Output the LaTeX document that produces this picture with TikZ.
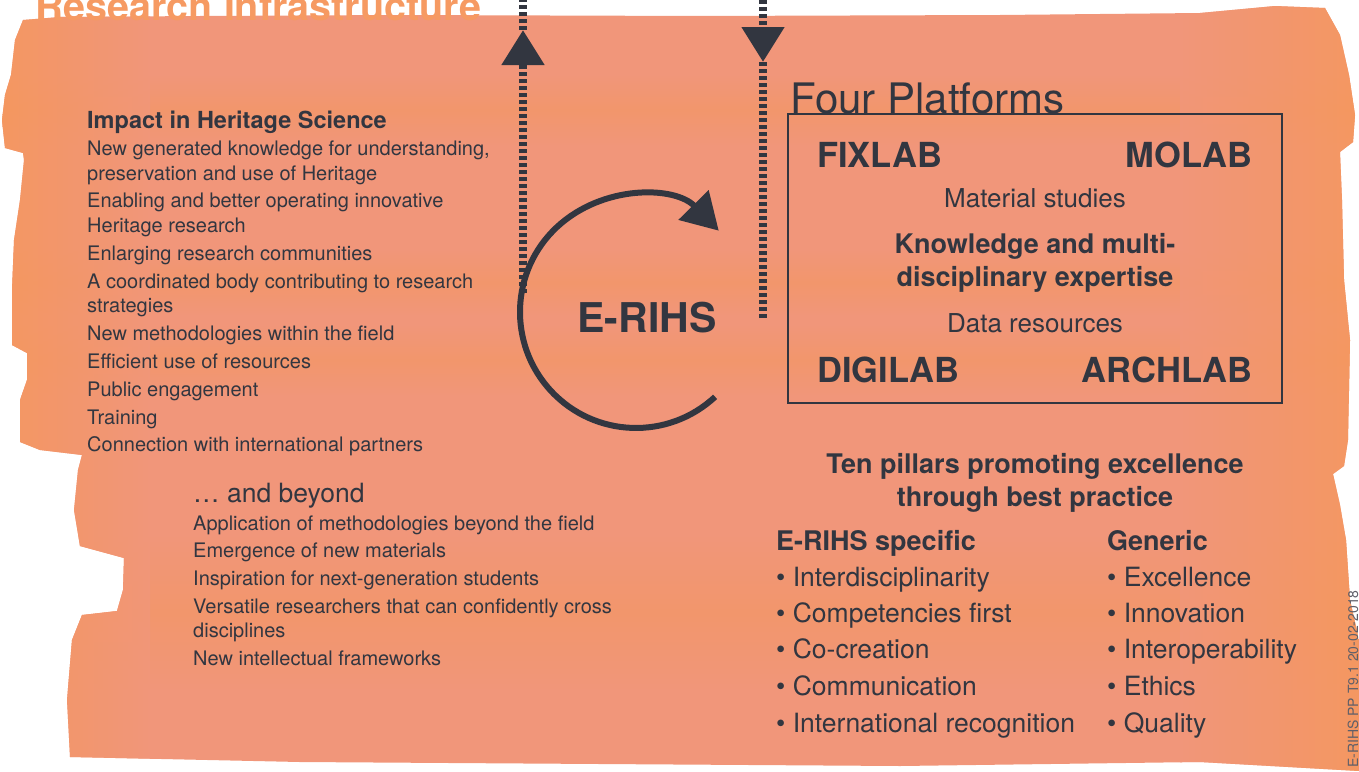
\documentclass[tikz,border=0pt]{standalone}
\usepackage{fontspec}
\setmainfont{TeX Gyre Heros}
\usetikzlibrary{arrows.meta}
\definecolor{ink}{RGB}{50,54,64}
\definecolor{salmon}{RGB}{241,150,122}
\definecolor{tangerine}{RGB}{245,152,92}
\definecolor{titleorange}{RGB}{246,154,98}
\definecolor{stampgray}{RGB}{95,95,105}
\begin{document}
\begin{tikzpicture}[x=1pt, y=-1pt,
        txt/.style={inner sep=0pt, text=ink},
        body/.style={txt, anchor=base west, font=\fontsize{20}{22}\selectfont},
        head/.style={txt, font=\bfseries\fontsize{27}{30}\selectfont},
        lab/.style={txt, font=\bfseries\fontsize{34.5}{36}\selectfont},
        plain/.style={txt, anchor=base, font=\fontsize{26}{28}\selectfont},
        pillar/.style={txt, anchor=base west, font=\fontsize{26.5}{28}\selectfont},
        streak/.style={top color=salmon, bottom color=salmon, middle color=tangerine, opacity=.45},
        dotline/.style={ink, line width=8pt, dash pattern=on 4pt off 3pt},
        bigtip/.style={-{Triangle[length=35pt, width=41pt]}}]
        \useasboundingbox (0,0) rectangle (1359,771);
        \begin{scope}
        \clip (23,20) -- (60,17) -- (200,16) -- (400,15) -- (700,16) -- (1000,15) -- (1200,13) -- (1275,6) -- (1325,8) -- (1340,35)
        -- (1349,75) -- (1355,115) -- (1353,142) -- (1340,152) -- (1342,200) -- (1344,280) -- (1350,340) -- (1348,440)
        -- (1344,466) -- (1333,474) -- (1340,505) -- (1346,540) -- (1350,600) -- (1359,640) -- (1359,771) -- (1200,762)
        -- (900,766) -- (600,764) -- (300,762) -- (70,757) -- (67,700) -- (72,640) -- (82,615) -- (117,611) -- (123,590)
        -- (124,558) -- (80,546) -- (74,510) -- (78,470) -- (82,455) -- (40,450) -- (20,442) -- (20,400) -- (27,380)
        -- (27,353) -- (12,345) -- (12,290) -- (14,240) -- (20,200) -- (24,160) -- (23,153) -- (5,148) -- (2,120)
        -- (5,95) -- (11,75) -- (15,40) -- cycle;
        \fill[salmon] (0,0) rectangle (1359,771);
        \shade[streak] (0,75) rectangle (1359,145);
        \shade[streak] (0,250) rectangle (1359,315);
        \shade[streak] (0,325) rectangle (1359,395);
        \shade[streak] (0,535) rectangle (1359,690);
        \shade[left color=tangerine, right color=salmon, opacity=.8] (0,0) rectangle (150,771);
        \shade[left color=salmon, right color=tangerine, opacity=.8] (1180,0) rectangle (1359,771);
        \end{scope}
        \node[anchor=base west, inner sep=0pt, text=titleorange, font=\bfseries\fontsize{39.5}{42}\selectfont] (title) at (35,20) {Research Infrastructure};
        \coordinate (uptop) at (523,0);
        \coordinate (uptip) at (523,30);
        \coordinate (upbot) at (523,293);
        \coordinate (dntop) at (763,0);
        \coordinate (dntip) at (763,62);
        \coordinate (dnbot) at (763,318);
        \draw[dotline, bigtip] (upbot) -- (uptip);
        \draw[dotline] (uptip) -- (uptop);
        \draw[dotline, bigtip] (dntop) -- (dntip);
        \draw[dotline] (dntip) -- (dnbot);
        \coordinate (ringstart) at (715.1,396.8);
        \draw[ink, line width=6pt, -{Triangle[length=36pt, width=41pt]}] (ringstart) arc[start angle=47, end angle=315.5, radius=116];
        \node[txt, anchor=base, font=\bfseries\fontsize{41}{44}\selectfont] (erihs) at (647,332) {E-RIHS};
        \node[txt, anchor=base west, font=\bfseries\fontsize{23.5}{26}\selectfont] (impact) at (87,128) {Impact in Heritage Science};
        \node[body] (imp1) at (87,155) {New generated knowledge for understanding,};
        \node[body] (imp2) at (87,180) {preservation and use of Heritage};
        \node[body] (imp3) at (87,207) {Enabling and better operating innovative};
        \node[body] (imp4) at (87,232) {Heritage research};
        \node[body] (imp5) at (87,260) {Enlarging research communities};
        \node[body] (imp6) at (87,288) {A coordinated body contributing to research};
        \node[body] (imp7) at (87,312) {strategies};
        \node[body] (imp8) at (87,340) {New methodologies within the field};
        \node[body] (imp9) at (87,368) {Efficient use of resources};
        \node[body] (imp10) at (87,396) {Public engagement};
        \node[body] (imp11) at (87,424) {Training};
        \node[body] (imp12) at (87,451) {Connection with international partners};
        \node[txt, anchor=base west, font=\fontsize{26.5}{28}\selectfont] (beyond) at (193,502) {… and beyond};
        \node[body] (bey1) at (193,530) {Application of methodologies beyond the field};
        \node[body] (bey2) at (193,557) {Emergence of new materials};
        \node[body] (bey3) at (193,585) {Inspiration for next-generation students};
        \node[body] (bey4) at (193,613) {Versatile researchers that can confidently cross};
        \node[body] (bey5) at (193,637) {disciplines};
        \node[body] (bey6) at (193,665) {New intellectual frameworks};
        \node[txt, anchor=base west, font=\fontsize{42}{44}\selectfont] (platforms) at (790,113) {Four Platforms};
        \draw[ink, line width=1.2pt] (788,114) rectangle (1282,403);
        \node[lab, anchor=base west] (fixlab) at (817,167) {FIXLAB};
        \node[lab, anchor=base east] (molab) at (1253,167) {MOLAB};
        \node[lab, anchor=base west] (digilab) at (817,382) {DIGILAB};
        \node[lab, anchor=base east] (archlab) at (1253,382) {ARCHLAB};
        \node[plain] (material) at (1035,207) {Material studies};
        \node[head, anchor=base] (know1) at (1035,253) {Knowledge and multi-};
        \node[head, anchor=base] (know2) at (1035,286) {disciplinary expertise};
        \node[plain] (data) at (1035,332) {Data resources};
        \node[head, anchor=base] (pillars1) at (1035,473) {Ten pillars promoting excellence};
        \node[head, anchor=base] (pillars2) at (1035,506) {through best practice};
        \node[head, anchor=base west] (specific) at (776,550) {E-RIHS specific};
        \node[head, anchor=base west] (generic) at (1107,550) {Generic};
        \node[pillar] (spec1) at (776,586) {\textbullet\ Interdisciplinarity};
        \node[pillar] (spec2) at (776,622) {\textbullet\ Competencies first};
        \node[pillar] (spec3) at (776,658) {\textbullet\ Co-creation};
        \node[pillar] (spec4) at (776,695) {\textbullet\ Communication};
        \node[pillar] (spec5) at (776,732) {\textbullet\ International recognition};
        \node[pillar] (gen1) at (1107,586) {\textbullet\ Excellence};
        \node[pillar] (gen2) at (1107,622) {\textbullet\ Innovation};
        \node[pillar] (gen3) at (1107,658) {\textbullet\ Interoperability};
        \node[pillar] (gen4) at (1107,695) {\textbullet\ Ethics};
        \node[pillar] (gen5) at (1107,732) {\textbullet\ Quality};
        \node[anchor=base west, rotate=90, inner sep=0pt, text=stampgray, font=\fontsize{14}{16}\selectfont] (stamp) at (1358,768) {E-RIHS PP T9.1 20-02-2018};
\end{tikzpicture}
\end{document}
